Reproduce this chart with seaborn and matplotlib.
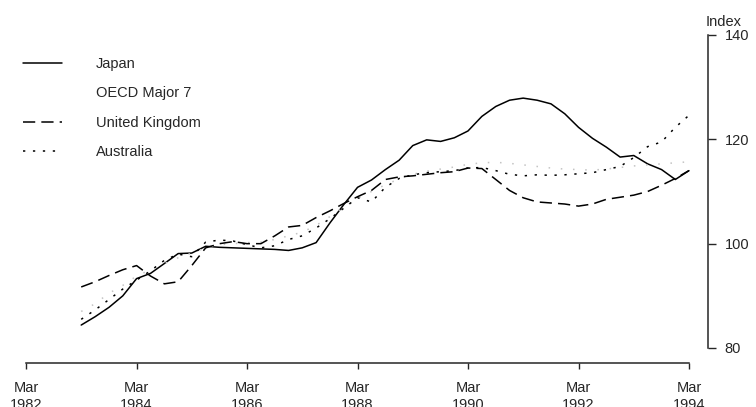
import matplotlib
matplotlib.use('Agg')
import pandas as pd
import seaborn as sns
import matplotlib.pyplot as plt
import matplotlib.dates as mdates
from matplotlib.lines import Line2D

# quarterly index values, Mar 1983 - Mar 1994
dates = pd.date_range('1983-03-01', '1994-03-01', freq='3MS')

japan = [84.4, 86.0, 87.8, 90.0, 93.3, 94.3, 96.2, 98.1, 98.2, 99.5,
         99.3, 99.2, 99.1, 99.0, 98.9, 98.7, 99.2, 100.2, 104.0, 107.5,
         110.8, 112.2, 114.2, 116.0, 118.8, 119.9, 119.6, 120.3, 121.6, 124.4,
         126.3, 127.5, 127.9, 127.5, 126.8, 124.9, 122.3, 120.2, 118.5, 116.6,
         116.9, 115.3, 114.2, 112.3, 114.0]
oecd = [87.0, 88.5, 90.5, 92.0, 93.8, 95.0, 96.2, 97.3, 98.2, 99.2,
        99.8, 100.0, 100.2, 100.3, 100.8, 101.5, 102.2, 103.5, 105.2, 107.0,
        108.7, 110.0, 111.3, 112.4, 113.3, 113.9, 114.3, 114.7, 115.2, 115.5,
        115.6, 115.4, 115.1, 114.8, 114.5, 114.3, 114.2, 114.1, 114.3, 114.6,
        114.9, 115.1, 115.3, 115.5, 115.7]
uk = [91.7, 92.7, 93.9, 95.0, 95.8, 93.8, 92.3, 92.7, 95.8, 99.2,
      100.0, 100.4, 100.0, 100.0, 101.5, 103.2, 103.5, 105.0, 106.3, 107.7,
      109.0, 110.2, 112.3, 112.8, 113.0, 113.3, 113.6, 113.8, 114.5, 114.4,
      112.3, 110.2, 108.8, 108.0, 107.8, 107.6, 107.2, 107.6, 108.5, 108.9,
      109.3, 110.0, 111.2, 112.5, 114.0]
australia = [85.5, 87.3, 89.3, 91.3, 93.0, 94.8, 96.8, 98.0, 97.5, 100.3,
             100.7, 100.5, 99.8, 99.2, 99.6, 100.8, 101.5, 103.0, 104.8, 106.8,
             108.8, 108.0, 110.8, 112.5, 113.2, 113.6, 113.8, 114.0, 114.5, 114.6,
             114.0, 113.3, 113.0, 113.2, 113.1, 113.2, 113.4, 113.6, 114.2, 114.8,
             116.5, 118.6, 119.5, 122.3, 124.6]

names = ['Japan', 'OECD Major 7', 'United Kingdom', 'Australia']
tick_years = list(range(1982, 1996, 2))

df = pd.concat([pd.DataFrame({'date': dates, 'value': v, 'series': n})
                for n, v in zip(names, [japan, oecd, uk, australia])])

sns.set_style('ticks')
plt.rcParams['font.family'] = ['Liberation Sans', 'DejaVu Sans']
plt.rcParams['font.size'] = 10.5

fig = plt.figure(figsize=(7.56, 4.07), dpi=100)
ax = fig.add_axes([26/756, 1 - 348/407, (708 - 26)/756, (348 - 35)/407])

palette = {'Japan': 'black', 'OECD Major 7': '#c4c4c4',
           'United Kingdom': 'black', 'Australia': 'black'}
dashes = {'Japan': '', 'OECD Major 7': (1, 7),
          'United Kingdom': (8, 4), 'Australia': (1.5, 5)}
sns.lineplot(data=df, x='date', y='value', hue='series', style='series',
             hue_order=names, style_order=names, palette=palette,
             dashes=dashes, linewidth=1.1, legend=False, ax=ax)

x0 = mdates.date2num(pd.Timestamp('1982-03-01'))
x1 = mdates.date2num(pd.Timestamp('1994-03-01'))
ax.set_xlim(x0, mdates.date2num(pd.Timestamp('1994-07-05')))
ax.set_ylim(80, 140)
ax.set_xlabel('')
ax.set_ylabel('')

ticks = [mdates.date2num(pd.Timestamp(f'{y}-03-01')) for y in tick_years]
ax.set_xticks(ticks, [f'Mar\n{y}' for y in tick_years])
ax.set_yticks([80, 100, 120, 140])
ax.yaxis.tick_right()
ax.tick_params(axis='y', direction='out', length=6, width=1, pad=6, labelsize=10.5)
ax.tick_params(axis='x', direction='out', length=4, width=1, pad=9, labelsize=10.5)

for s in ['left', 'top']:
    ax.spines[s].set_visible(False)
ax.spines['right'].set_linewidth(1.1)
ax.spines['bottom'].set_linewidth(1.1)
ax.spines['bottom'].set_position(('outward', 11))
ax.spines['bottom'].set_bounds(x0, x1)

fig.text(724/756, 1 - 22/407, 'Index', ha='center', va='center', fontsize=10.5)

# legend: the OECD sample is effectively invisible in the original
lines = ax.get_lines()[:4]
handles = [lines[0], Line2D([], [], color='none'), lines[2], lines[3]]
fig.legend(handles, names, loc='upper left', bbox_to_anchor=(23/756, 1 - 57/407),
           frameon=False, borderpad=0, borderaxespad=0, handlelength=2.7,
           handletextpad=2.3, labelspacing=1.05, fontsize=10.5)

fig.savefig('out.png', dpi=100)
